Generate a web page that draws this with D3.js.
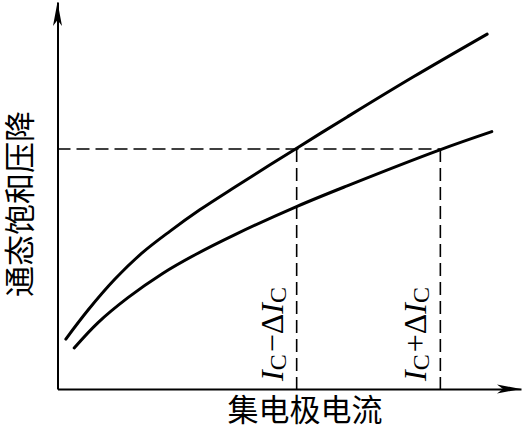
<!DOCTYPE html>
<html>
<head>
<meta charset="utf-8">
<script src="https://cdn.jsdelivr.net/npm/d3@7/dist/d3.min.js"></script>
<style>
  body { margin: 0; background: #fff; }
  svg { display: block; }
</style>
</head>
<body>
<svg width="523" height="428"></svg>
<script>
// curve readings (arbitrary units 0-100 on both axes)
var upperX = [1.8, 6.6, 12.4, 18.2, 24.3, 30.7, 38.3, 51.7, 62.5, 76.7, 92.7];
var upperY = [12.9, 20.4, 28.4, 35.1, 40.8, 46.3, 52.2, 62.3, 70.3, 80.6, 91.7];
var lowerX = [3.6, 8.7, 15.2, 22.6, 29.7, 38.3, 51.7, 62.5, 82.5, 93.7];
var lowerY = [10.6, 17.1, 23.6, 29.8, 34.7, 39.9, 47.2, 52.5, 61.8, 66.5];

var satLevel = 62;          // dashed horizontal
var icMarks = [51.6, 82.6]; // dashed verticals
var icSigns = ["\u2212", "+"];

var yTitle = "通态饱和压降";
var xTitle = "集电极电流";

var svg = d3.select("svg");

var x = d3.scaleLinear().domain([0, 100]).range([57.5, 521]),
    y = d3.scaleLinear().domain([0, 100]).range([389, 2]);

// axes, no ticks
svg.append("g")
    .attr("transform", "translate(0," + y(0) + ")")
    .call(d3.axisBottom(x).tickValues([]).tickSizeOuter(0));
svg.append("g")
    .attr("transform", "translate(" + x(0) + ",0)")
    .call(d3.axisLeft(y).tickValues([]).tickSizeOuter(0));
svg.selectAll(".domain").attr("stroke", "#000").attr("stroke-width", 2);

// arrow heads
svg.append("path")
    .attr("transform", "translate(" + x(100) + "," + y(0) + ")")
    .attr("d", "M0,0L-24,-4.5L-18,0L-24,4.5Z")
    .attr("fill", "#000");
svg.append("path")
    .attr("transform", "translate(" + x(0) + "," + y(100) + ")")
    .attr("d", "M0,0L-4.5,24L0,18L4.5,24Z")
    .attr("fill", "#000");

// dashed guides
var dash = "13,6";
svg.append("line")
    .attr("x1", x(0)).attr("x2", x(icMarks[1]))
    .attr("y1", y(satLevel)).attr("y2", y(satLevel))
    .attr("stroke", "#000").attr("stroke-width", 1.6)
    .attr("stroke-dasharray", dash);
svg.selectAll(".vguide")
    .data(icMarks)
    .enter().append("line")
    .attr("class", "vguide")
    .attr("x1", function(d) { return x(d); })
    .attr("x2", function(d) { return x(d); })
    .attr("y1", y(satLevel)).attr("y2", y(0))
    .attr("stroke", "#000").attr("stroke-width", 1.6)
    .attr("stroke-dasharray", dash);

// curves
var line = d3.line()
    .curve(d3.curveCatmullRom)
    .x(function(d) { return x(d[0]); })
    .y(function(d) { return y(d[1]); });

[[upperX, upperY], [lowerX, lowerY]].forEach(function(s) {
    svg.append("path")
        .datum(d3.zip(s[0], s[1]))
        .attr("d", line)
        .attr("fill", "none")
        .attr("stroke", "#000")
        .attr("stroke-width", 3)
        .attr("stroke-linecap", "round");
});

// I_C -/+ dI_C labels, rotated
icMarks.forEach(function(m, i) {
    var t = svg.append("text")
        .attr("transform", "translate(" + (x(m) - 14) + "," + (y(0) - 8) + ") rotate(-90)")
        .attr("font-family", "'Liberation Serif', 'Times New Roman', serif")
        .attr("font-size", 32);
    t.append("tspan").attr("font-style", "italic").text("I");
    t.append("tspan").attr("font-size", 24).attr("dy", 3).text("C");
    t.append("tspan").attr("dy", -3).attr("dx", 2).text(icSigns[i] + "\u0394");
    t.append("tspan").attr("font-style", "italic").text("I");
    t.append("tspan").attr("font-size", 24).attr("dy", 3).text("C");
});

// axis titles
var cjk = "'Liberation Serif', 'Noto Sans CJK SC', serif";
svg.append("text")
    .attr("transform", "translate(31,204) rotate(-90)")
    .attr("text-anchor", "middle")
    .attr("font-family", cjk)
    .attr("font-size", 31)
    .text(yTitle);
svg.append("text")
    .attr("x", 305).attr("y", 421)
    .attr("text-anchor", "middle")
    .attr("font-family", cjk)
    .attr("font-size", 31)
    .text(xTitle);
</script>
</body>
</html>
